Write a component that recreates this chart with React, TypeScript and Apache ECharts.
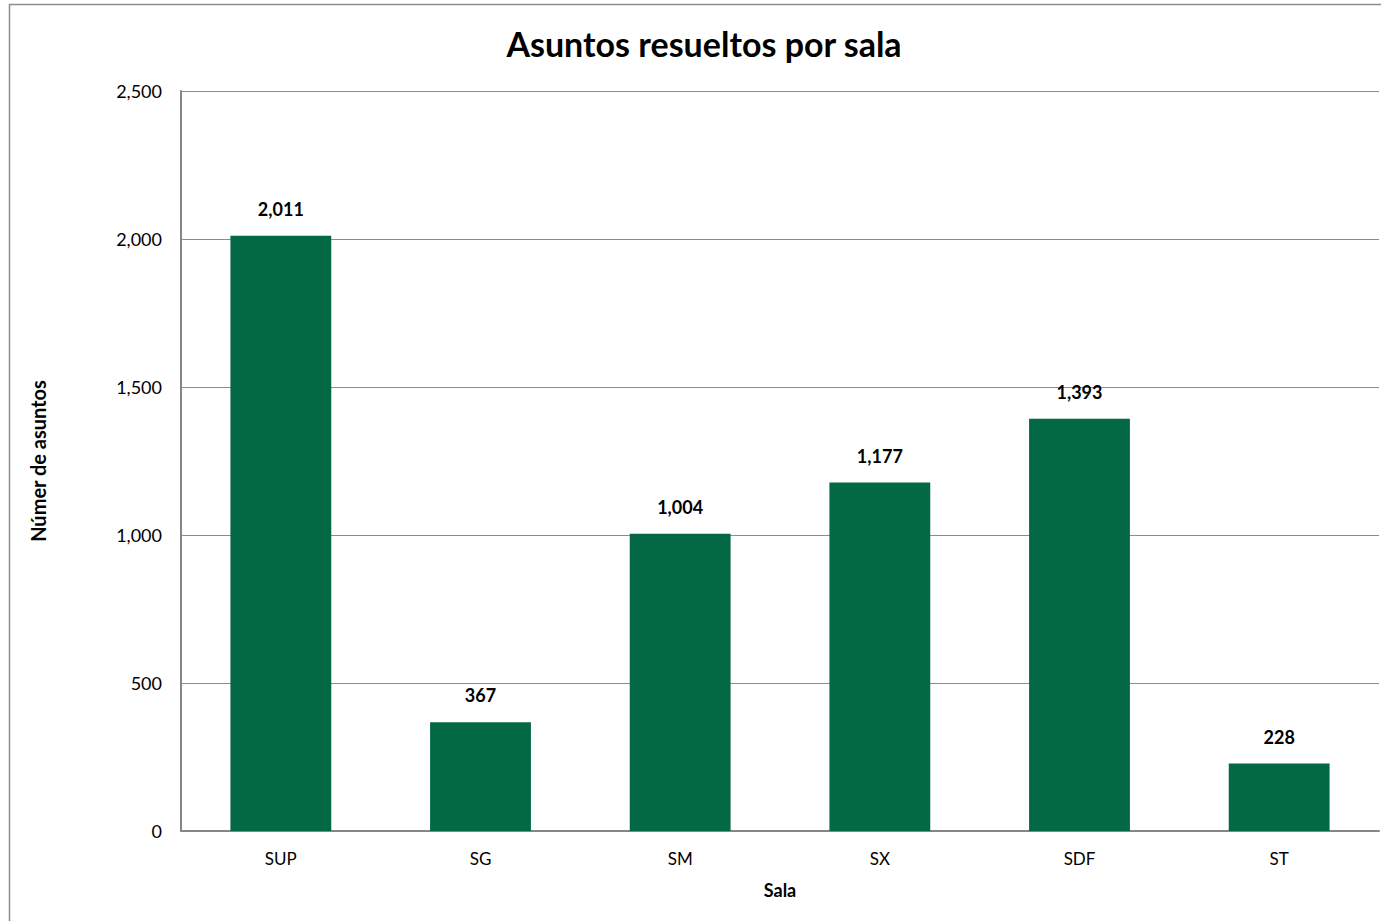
import React, { useEffect, useRef } from "react";
import * as echarts from "echarts";

const categories = ["SUP", "SG", "SM", "SX", "SDF", "ST"];
const values = [2011, 367, 1004, 1177, 1393, 228];
const yTicks = { min: 0, max: 2500, interval: 500 };

const FONT = "Lato, 'Open Sans', sans-serif";
const fmt = (v: number) => v.toLocaleString("en-US");

export default function App() {
  const ref = useRef<HTMLDivElement>(null);
  useEffect(() => {
    if (!ref.current) return;
    const chart = echarts.init(ref.current, undefined, { renderer: "svg" });
    chart.setOption({
      animation: false,
      backgroundColor: "#ffffff",
      textStyle: { fontFamily: FONT },
      title: {
        text: "Asuntos resueltos por sala",
        left: 699,
        textAlign: "center",
        top: 21,
        textStyle: { fontFamily: FONT, fontSize: 34, fontWeight: "bold", color: "#000" },
      },
      graphic: [
        {
          type: "rect",
          shape: { x: 9.5, y: 4.5, width: 1400, height: 1000 },
          style: { fill: "none", stroke: "#8c8c8c", lineWidth: 1.5 },
          silent: true,
        },
      ],
      grid: { left: 181, right: 2, top: 91, bottom: 90, containLabel: false },
      xAxis: {
        type: "category",
        data: categories,
        name: "Sala",
        nameLocation: "middle",
        nameGap: 50,
        nameTextStyle: { fontFamily: FONT, fontSize: 18, fontWeight: "bold", color: "#000" },
        axisLine: { show: true, lineStyle: { color: "#868686", width: 2 } },
        axisTick: { show: false },
        axisLabel: { margin: 19, fontFamily: FONT, fontSize: 17, color: "#000" },
      },
      yAxis: {
        type: "value",
        min: yTicks.min,
        max: yTicks.max,
        interval: yTicks.interval,
        name: "Númer de asuntos",
        nameLocation: "middle",
        nameRotate: 90,
        nameGap: 133,
        nameTextStyle: { fontFamily: FONT, fontSize: 20, fontWeight: "bold", color: "#000" },
        axisLine: { show: true, lineStyle: { color: "#868686", width: 2 } },
        axisTick: { show: false },
        axisLabel: { margin: 19, fontFamily: FONT, fontSize: 18, color: "#000", formatter: (v: number) => fmt(v) },
        splitLine: { show: true, lineStyle: { color: "#8c8c8c", width: 1 } },
      },
      series: [
        {
          type: "bar",
          data: values,
          barWidth: "50.5%",
          itemStyle: { color: "#026944" },
          label: {
            show: true,
            position: "top",
            distance: 18,
            fontFamily: FONT,
            fontSize: 18,
            fontWeight: "bold",
            color: "#000",
            formatter: (p: any) => fmt(p.value),
          },
        },
      ],
    });
    return () => chart.dispose();
  }, []);
  return (
    <div
      ref={ref}
      style={{ position: "fixed", left: 0, top: 0, width: 1381, height: 921 }}
    />
  );
}
